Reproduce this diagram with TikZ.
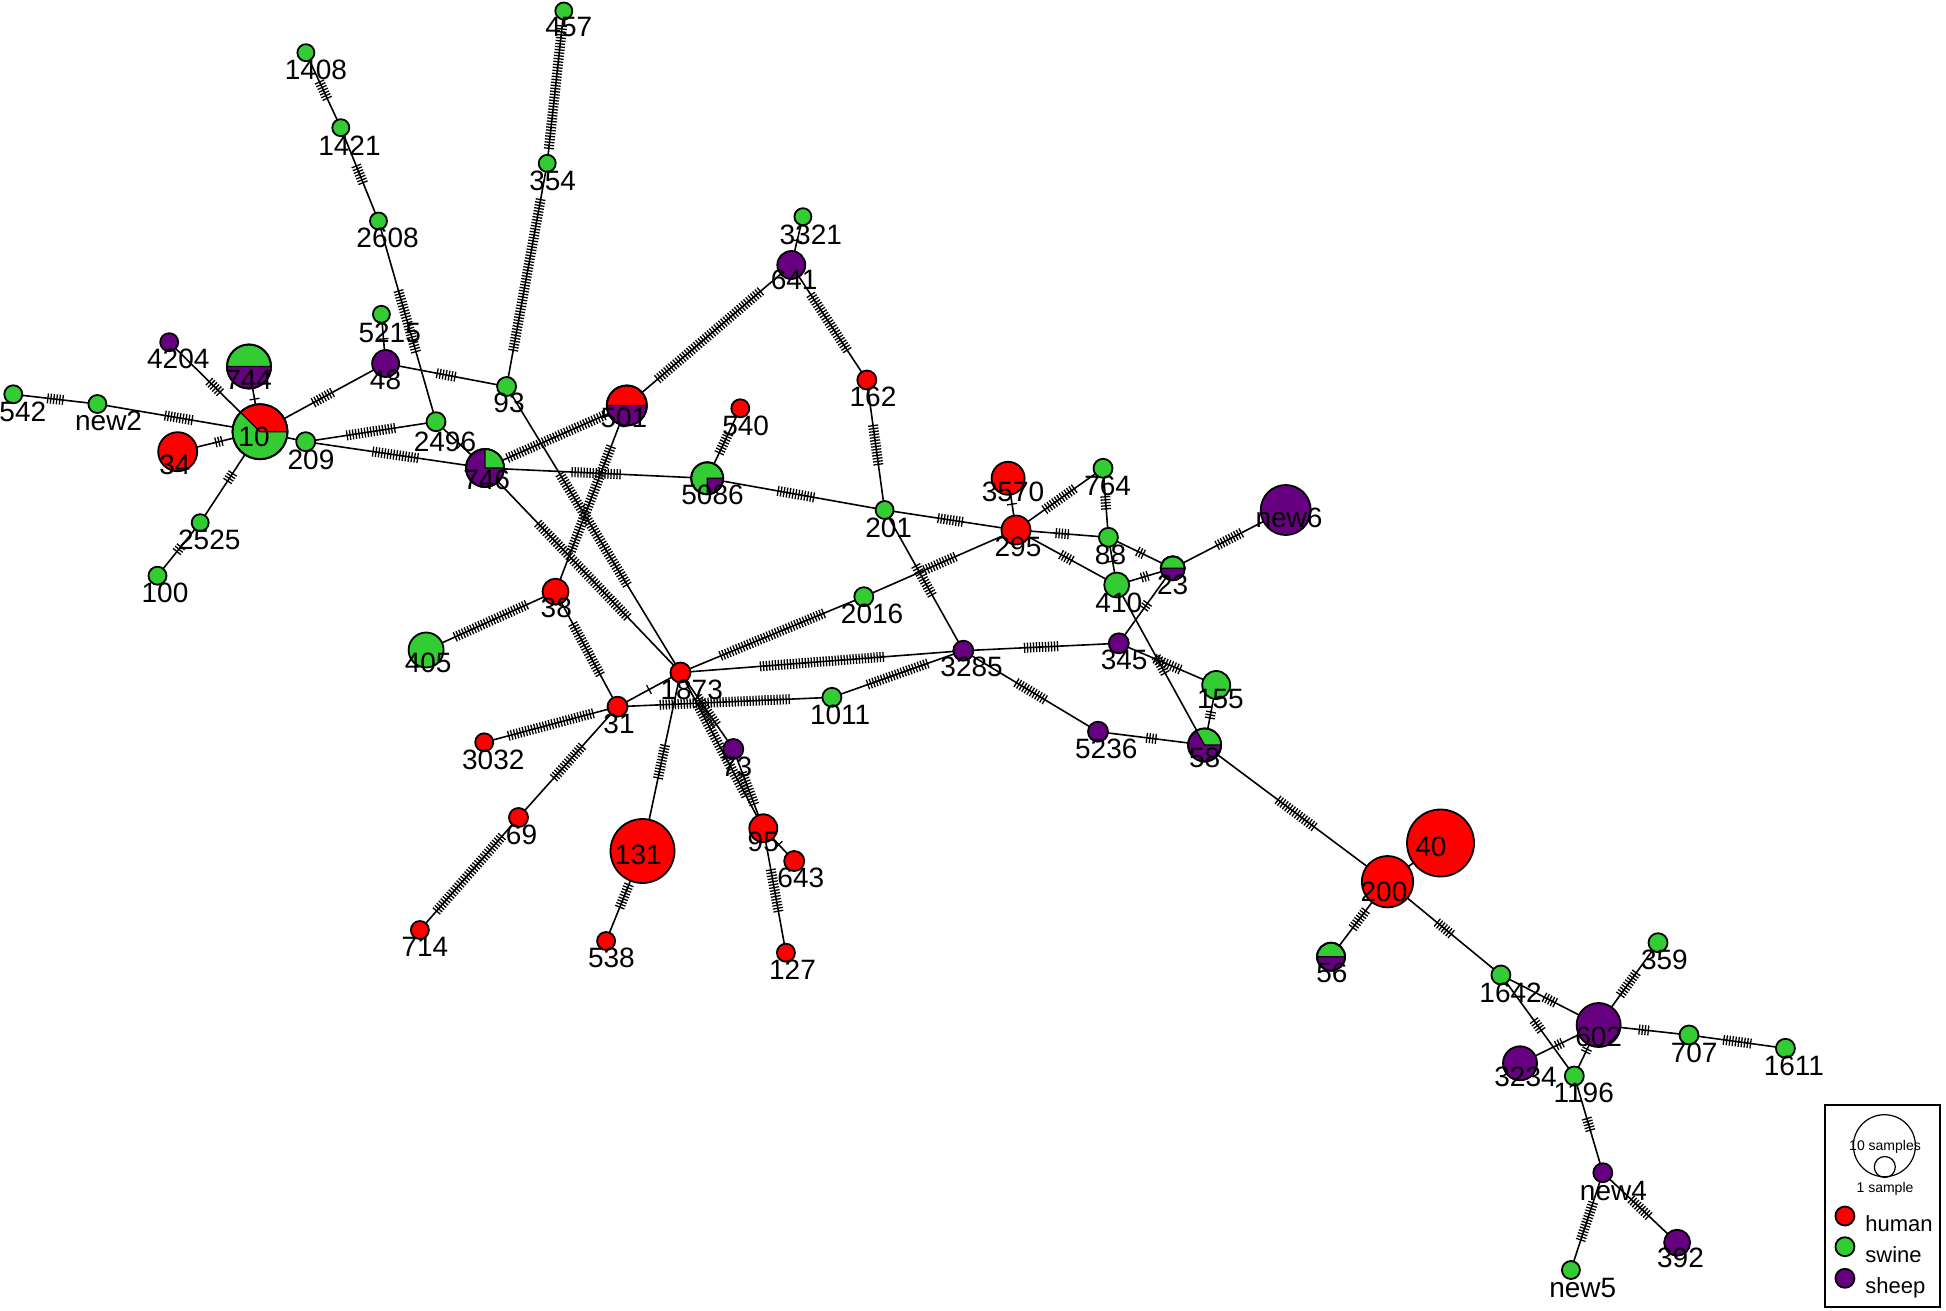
\documentclass[tikz,border=0pt]{standalone}
\usepackage{fontspec}
\setmainfont{Liberation Sans}
\usetikzlibrary{calc,backgrounds}
\definecolor{human}{RGB}{255,0,0}
\definecolor{swine}{RGB}{51,204,51}
\definecolor{sheep}{RGB}{102,0,128}
\pgfdeclarelayer{labels}
\pgfsetlayers{background,main,labels}

\tikzset{
  hap/.style={circle, draw=black, line width=0.9pt, inner sep=0pt, outer sep=0pt, minimum size=#1pt},
  hlabel/.style={inner sep=0pt, font=\fontsize{14}{14}\selectfont},
  link/.style={line width=0.8pt},
  mtick/.style={line width=0.65pt},
}

% edge between two haplotypes with #3 mutation ticks
\newcommand{\medge}[3]{%
  \draw[link] (h#1) -- (h#2);
  \foreach \k in {1,...,#3}
    \draw[mtick] ($(h#1)!0.5!(h#2)!{(\k-(#3+1)/2)*1.5pt}!(h#2)!2.5pt!90:(h#2)$)
      -- ($(h#1)!0.5!(h#2)!{(\k-(#3+1)/2)*1.5pt}!(h#2)!2.5pt!-90:(h#2)$);
}
% pie sector on a haplotype
\newcommand{\hapsplit}[5]{%
  \filldraw[fill=#5, draw=black, line width=0.6pt] (h#1.center) -- ++(#3:#2) arc[start angle=#3, end angle=#4, radius=#2] -- cycle;
  \draw[line width=0.9pt] (h#1.center) circle[radius=#2];
}

\begin{document}
\begin{tikzpicture}[x=0.5pt, y=-0.5pt]
  \useasboundingbox (0,0) rectangle (1946,1310);

  \foreach \id/\px/\py/\rad/\col/\lx/\ly in {
    457/563.8/11/8.5/swine/568.8/27,
    1408/305.9/52.7/8.5/swine/315.9/70,
    1421/340.8/127.7/8.5/swine/349.5/145.7,
    2608/378.5/221/8.5/swine/387.6/238.3,
    5215/381.4/314.3/8.5/swine/389.7/332.7,
    354/547.2/163.3/8.5/swine/552.6/181,
    4204/169.2/342.2/9/sheep/178.3/359.3,
    744/249/366.5/22/swine/248.7/380,
    48/385.6/363.5/13.5/sheep/385.5/380,
    93/506.6/386.5/9.5/swine/509/403,
    542/13.3/394.3/9/swine/22.8/411.7,
    new2/97.4/404/9/swine/108.6/420.7,
    10/260/431.7/27.5/swine/254/437.3,
    34/177.7/451.7/19.5/human/175/465,
    209/305.7/441.7/9.5/swine/311/460,
    2496/436/421.7/9.5/swine/445/441.7,
    746/485/468/19/sheep/486.7/480,
    501/626.8/405.5/20/human/623.9/418.3,
    2525/200.2/522.7/8.5/swine/209.3/540,
    100/157.5/575.7/9/swine/165/593.3,
    38/555.5/591.7/13/human/556.3/608.3,
    405/426.1/650/17.5/swine/428.2/663.3,
    31/617.5/706.7/10/human/619/724,
    3032/484.2/742.3/9/human/493.3/760,
    69/518.5/817.5/9.5/human/521.5/835,
    714/419.9/930/9/human/424.9/947.3,
    131/642.5/851/32/human/638.3/855,
    538/606.1/941/9/human/611.4/958.3,
    1873/680.5/672.5/10/human/691.7/690,
    73/733.3/749/10/sheep/736.7/766.7,
    95/763.3/828.3/14/human/763.3/841.7,
    643/794.2/861/10/human/800.8/878.3,
    127/785.9/952.7/9/human/792.5/969.3,
    540/740.3/408.3/9/human/745.7/426,
    5086/707.2/478.3/16/swine/712.5/495,
    3321/802.9/216.7/8.5/swine/810.8/235,
    641/791.3/265/14/sheep/794.2/280,
    162/866.8/380/9.5/human/873/396.7,
    201/884.6/510/9/swine/888.7/528.3,
    3570/1008.1/478.3/16.5/human/1013/491.7,
    764/1103/468.3/9.5/swine/1107.6/486,
    295/1016/530/14.5/human/1018/546.7,
    88/1108.4/537.3/9.5/swine/1110.5/555,
    23/1172.7/568.3/12/swine/1172.7/585,
    410/1116.7/585/12.5/swine/1118.8/603.3,
    new6/1285.7/510/25/sheep/1289/518.3,
    2016/863.8/596.7/9.5/swine/872.1/614.3,
    3285/963.3/650.7/10/sheep/971.6/667.3,
    345/1118.8/643.3/10/sheep/1124.2/660,
    155/1216.2/685/14/swine/1220.4/699.3,
    1011/831.9/697.3/9.5/swine/840.2/715,
    5236/1098/731.7/10/sheep/1106.3/749.3,
    58/1204.6/745/16.5/sheep/1204.6/758.3,
    40/1440.5/843/33.5/human/1430.8/846.7,
    200/1387.5/881.7/25.7/human/1384/891.7,
    56/1331/956.7/14/swine/1331.8/973.3,
    1642/1500.9/975/9.5/swine/1510.6/992.7,
    359/1658/942.7/9.5/swine/1664.4/960,
    602/1598.6/1025/22/sheep/1598.6/1036.7,
    707/1689/1035/9.5/swine/1694.1/1052.7,
    1611/1785.4/1048.3/9.5/swine/1793.9/1066,
    3234/1520/1063.3/17/sheep/1525.5/1076.7,
    1196/1574.3/1076/9.5/swine/1583.7/1093.3,
    new4/1602.8/1172.7/9.5/sheep/1613.4/1190.7,
    392/1677.1/1242.7/13/sheep/1680.5/1258.3,
    new5/1570.9/1270/9/swine/1582.8/1288.3}{
    \node[hap=\rad, fill=\col] (h\id) at (\px,\py) {};
    \begin{pgfonlayer}{labels}
      \node[hlabel] (l\id) at (\lx,\ly) {\id};
    \end{pgfonlayer}
  }

  \hapsplit{10}{13.75pt}{0}{135}{human}
  \hapsplit{744}{11pt}{180}{360}{sheep}
  \hapsplit{501}{10pt}{180}{360}{sheep}
  \hapsplit{746}{9.5pt}{0}{90}{swine}
  \hapsplit{5086}{8pt}{270}{360}{sheep}
  \hapsplit{23}{6pt}{180}{360}{sheep}
  \hapsplit{58}{8.25pt}{0}{120}{swine}
  \hapsplit{56}{7pt}{180}{360}{sheep}

  \begin{scope}[on background layer]
    \foreach \ha/\hb/\nm in {
      1408/1421/7, 1421/2608/7, 2608/2496/22, 5215/48/1, 457/354/42, 354/93/52,
      4204/10/6, 744/10/1, 542/new2/6, new2/10/10, 34/10/3, 10/2525/4, 2525/100/3,
      10/48/8, 10/209/1, 209/2496/17, 209/746/16, 2496/746/1, 48/93/7,
      93/1873/44, 746/1873/44, 746/501/36, 746/5086/17, 501/641/46, 501/38/38,
      641/3321/1, 641/162/23, 162/201/14, 540/5086/8, 5086/201/13, 201/295/9,
      201/3285/12, 3570/295/1, 295/764/13, 295/88/5, 295/410/5, 764/88/5,
      88/23/3, 410/23/3, 88/410/1, 23/new6/10, 2016/295/12, 1873/2016/38,
      1873/3285/42, 31/1011/44, 1011/3285/22, 3285/345/12, 3285/5236/12,
      345/155/10, 345/23/3, 410/58/7, 155/58/3, 5236/58/4, 58/200/16,
      200/40/1, 200/56/8, 200/1642/7, 1642/602/5, 1642/1196/5, 602/359/10,
      602/707/4, 707/1611/10, 602/3234/3, 602/1196/2, 1196/new4/5,
      new4/new5/14, new4/392/9, 38/405/27, 38/31/20, 31/3032/30, 31/69/15,
      69/714/34, 31/1873/1, 1873/131/12, 131/538/9, 1873/73/12, 73/95/12,
      1873/95/35, 95/643/1, 95/127/15}
      {\medge{\ha}{\hb}{\nm}}
  \end{scope}

  % legend
  \node[draw, line width=0.7pt, minimum width=57.5pt, minimum height=101pt, inner sep=0pt] (legend) at (1882.5,1206) {};
  \node[circle, draw, line width=0.6pt, minimum size=31pt, inner sep=0pt] (lg10) at (1884.4,1145.7) {};
  \node[circle, draw, line width=0.6pt, minimum size=10.5pt, inner sep=0pt] (lg1) at (1884.8,1167) {};
  \node[inner sep=0pt, font=\fontsize{7}{7}\selectfont] (lg10t) at (1885,1146.7) {10 samples};
  \node[inner sep=0pt, font=\fontsize{7}{7}\selectfont] (lg1t) at (1885,1189) {1 sample};
  \foreach \grp/\py/\by in {human/1216/1231, swine/1246.7/1262, sheep/1278.3/1293}{
    \node[hap=9.5, fill=\grp] (k\grp) at (1844.9,\py) {};
    \node[anchor=base west, inner sep=0pt, font=\fontsize{11}{11}\selectfont] (t\grp) at (1865,\by) {\grp};
  }
\end{tikzpicture}
\end{document}
